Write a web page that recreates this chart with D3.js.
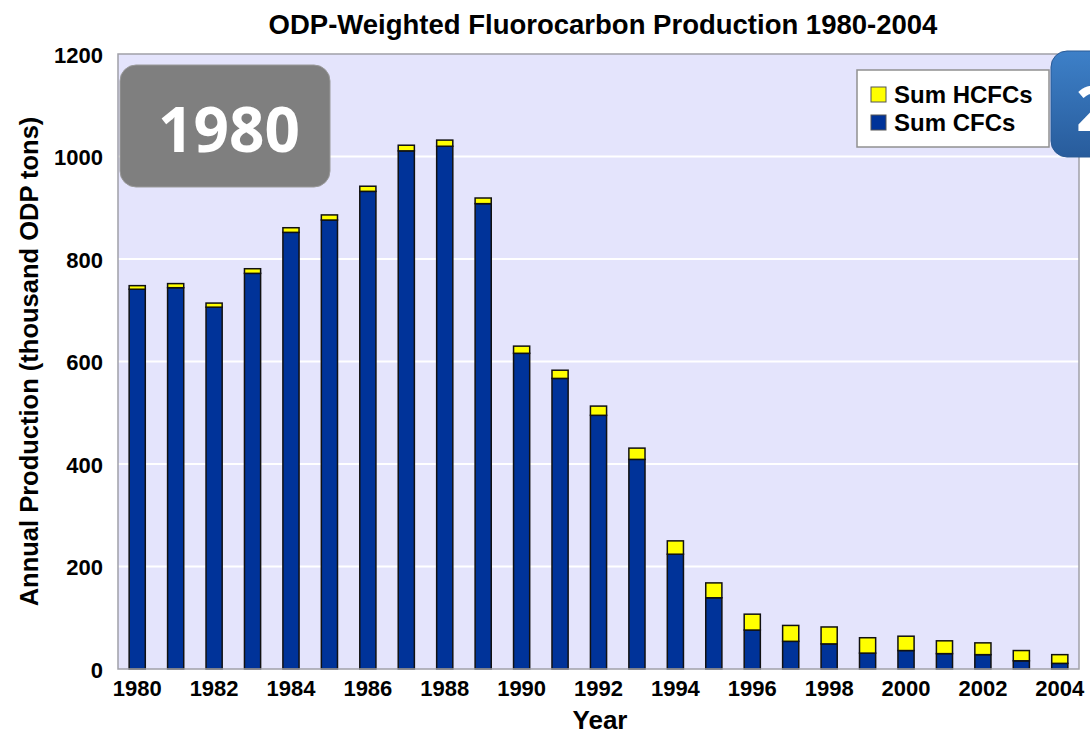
<!DOCTYPE html>
<html>
<head>
<meta charset="utf-8">
<script src="https://cdn.jsdelivr.net/npm/d3@7"></script>
<style>
  body { margin: 0; background: #fff; }
  text { font-family: "Liberation Sans", Arial, sans-serif; font-weight: bold; }
</style>
</head>
<body>
<div id="chart"></div>
<script>
var years = d3.range(1980, 2005);
// thousand ODP tons
var cfcs  = [741, 744, 706, 772, 852, 876, 932, 1011, 1020, 908, 616, 567, 495, 409, 224, 139, 76, 54, 49, 31, 36, 30, 28, 16, 11];
var hcfcs = [7, 8, 8, 9, 9, 10, 10, 11, 12, 11, 14, 16, 18, 22, 26, 29, 31, 31, 33, 30, 28, 25, 23, 20, 17];
var yTicks = [0, 200, 400, 600, 800, 1000, 1200];
var xTickYears = d3.range(1980, 2005, 2);

var width = 1090, height = 734,
    margin = {left: 118, right: 11, top: 54, bottom: 65};

var svg = d3.select("#chart").append("svg")
    .attr("width", width)
    .attr("height", height);

var x = d3.scaleBand()
  .domain(years)
  .range([margin.left, width - margin.right])
  .paddingInner(0.58)
  .paddingOuter(0.29);

var y = d3.scaleLinear()
  .domain([0, 1200])
  .range([height - margin.bottom, margin.top]);

// plot background
svg.append("rect")
  .attr("x", margin.left)
  .attr("y", margin.top)
  .attr("width", width - margin.left - margin.right)
  .attr("height", y(0) - y(1200))
  .style("fill", "#e4e4fc");

// gridlines
svg.append("g")
  .selectAll("line")
  .data(yTicks.slice(1, -1))
  .enter()
  .append("line")
  .attr("x1", margin.left)
  .attr("x2", width - margin.right)
  .attr("y1", function(d){ return y(d); })
  .attr("y2", function(d){ return y(d); })
  .style("stroke", "#fff")
  .style("stroke-width", 2);

var data = years.map(function(yr, i){
  return {year: yr, cfc: cfcs[i], hcfc: hcfcs[i]};
});

// CFC bars
svg.append("g")
  .selectAll("rect")
  .data(data)
  .enter()
  .append("rect")
  .attr("x", function(d){ return x(d.year); })
  .attr("y", function(d){ return y(d.cfc); })
  .attr("width", x.bandwidth())
  .attr("height", function(d){ return y(0) - y(d.cfc); })
  .style("fill", "#003399")
  .style("stroke", "#111")
  .style("stroke-width", 1.5);

// HCFC on top
svg.append("g")
  .selectAll("rect")
  .data(data)
  .enter()
  .append("rect")
  .attr("x", function(d){ return x(d.year); })
  .attr("y", function(d){ return y(d.cfc + d.hcfc); })
  .attr("width", x.bandwidth())
  .attr("height", function(d){ return y(d.cfc) - y(d.cfc + d.hcfc); })
  .style("fill", "#ffff00")
  .style("stroke", "#111")
  .style("stroke-width", 1.5);

// plot border
svg.append("rect")
  .attr("x", margin.left)
  .attr("y", margin.top)
  .attr("width", width - margin.left - margin.right)
  .attr("height", y(0) - y(1200))
  .style("fill", "none")
  .style("stroke", "#a0a0a8")
  .style("stroke-width", 1.5);

// axes
var yAxis = svg.append("g")
  .attr("transform", "translate(" + margin.left + ",0)")
  .call(d3.axisLeft(y).tickValues(yTicks).tickFormat(d3.format("d")).tickSize(0).tickPadding(15));
yAxis.select(".domain").remove();
yAxis.selectAll("text")
  .attr("dy", "0.38em")
  .style("font-size", "22px")
  .style("fill", "#000");

var xAxis = svg.append("g")
  .attr("transform", "translate(0," + y(0) + ")")
  .call(d3.axisBottom(x).tickValues(xTickYears).tickSize(0).tickPadding(11));
xAxis.select(".domain").remove();
xAxis.selectAll("text")
  .style("font-size", "22px")
  .style("fill", "#000");

// title and axis labels
svg.append("text")
  .attr("x", 603)
  .attr("y", 34)
  .attr("text-anchor", "middle")
  .style("font-size", "27.5px")
  .text("ODP-Weighted Fluorocarbon Production 1980-2004");

svg.append("text")
  .attr("x", 600)
  .attr("y", 729)
  .attr("text-anchor", "middle")
  .style("font-size", "26px")
  .text("Year");

svg.append("text")
  .attr("transform", "translate(38," + ((y(0) + y(1200)) / 2) + ") rotate(-90)")
  .attr("text-anchor", "middle")
  .style("font-size", "25.5px")
  .text("Annual Production (thousand ODP tons)");

// legend
var legend = svg.append("g").attr("transform", "translate(857,70)");
legend.append("rect")
  .attr("width", 192).attr("height", 77)
  .style("fill", "#fff")
  .style("stroke", "#909090")
  .style("stroke-width", 1.5);
var legendItems = [{name: "Sum HCFCs", color: "#ffff00"}, {name: "Sum CFCs", color: "#003399"}];
legend.selectAll("g.item")
  .data(legendItems)
  .enter()
  .append("g")
  .attr("class", "item")
  .attr("transform", function(d, i){ return "translate(14," + (17 + i * 28) + ")"; })
  .each(function(d){
    var g = d3.select(this);
    g.append("rect")
      .attr("width", 15).attr("height", 15)
      .style("fill", d.color)
      .style("stroke", "#555");
    g.append("text")
      .attr("x", 23).attr("y", 16)
      .style("font-size", "24px")
      .text(d.name);
  });

// year badges
var defs = svg.append("defs");
var grad = defs.append("linearGradient")
  .attr("id", "blueGrad")
  .attr("x1", 0).attr("y1", 0).attr("x2", 0).attr("y2", 1);
grad.append("stop").attr("offset", "0%").attr("stop-color", "#3d80c8");
grad.append("stop").attr("offset", "100%").attr("stop-color", "#285c9c");

svg.append("rect")
  .attr("x", 120).attr("y", 65)
  .attr("width", 210).attr("height", 122)
  .attr("rx", 16).attr("ry", 16)
  .style("fill", "#7f7f7f")
  .style("stroke", "#9a9a9a")
  .style("stroke-width", 1);
svg.append("text")
  .attr("x", 229).attr("y", 152)
  .attr("text-anchor", "middle")
  .style("font-family", "'Open Sans', sans-serif")
  .style("font-weight", 700)
  .style("font-size", "62px")
  .style("fill", "#fff")
  .text("1980");

svg.append("rect")
  .attr("x", 1051).attr("y", 51)
  .attr("width", 210).attr("height", 106)
  .attr("rx", 16).attr("ry", 16)
  .style("fill", "url(#blueGrad)")
  .style("stroke", "#2a5a95")
  .style("stroke-width", 1);
svg.append("text")
  .attr("x", 1076).attr("y", 131)
  .style("font-family", "'Open Sans', sans-serif")
  .style("font-weight", 700)
  .style("font-size", "62px")
  .style("fill", "#fff")
  .text("2004");
</script>
</body>
</html>
